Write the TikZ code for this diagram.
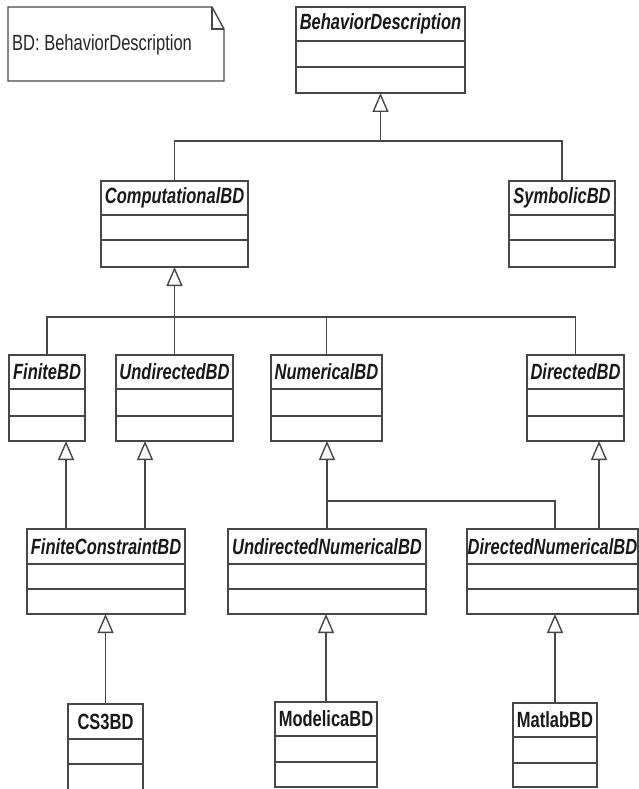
\documentclass[tikz,border=0pt]{standalone}
\usepackage{fontspec}
\setmainfont{Liberation Sans}
\newfontfamily\umlfont[FakeStretch=0.75]{Liberation Sans}
\usetikzlibrary{arrows.meta,fit}

\tikzset{
  umlline/.style={draw=black!72, line width=1.4pt},
  clsbox/.style={umlline, inner sep=0pt, outer sep=0pt, fill=white},
  abstitle/.style={font=\umlfont\fontsize{22}{24}\selectfont\bfseries\itshape, inner sep=0pt, text=black!90},
  contitle/.style={font=\umlfont\fontsize{22}{24}\selectfont\bfseries, inner sep=0pt, text=black!90},
  notetext/.style={font=\umlfont\fontsize{22}{24}\selectfont, inner sep=0pt, anchor=west, text=black!85},
  gen/.style={umlline, -{Triangle[open, length=19pt, width=16pt]}},
}

% name, x1, y1, x2, y2, divider1, divider2, text, title style
\newcommand{\umlcls}[9]{%
  \path (#2,#3) coordinate (#1-nw) (#4,#5) coordinate (#1-se);
  \node[clsbox, fit=(#1-nw)(#1-se)] (#1) {};
  \node[#9] (#1-title) at ({(#2+#4)/2},{(#3+#6)/2}) {#8};
  \draw[umlline] (#2,#6) -- (#4,#6);
  \draw[umlline] (#2,#7) -- (#4,#7);
}

\begin{document}
\begin{tikzpicture}[x=1pt,y=-1pt]
\useasboundingbox (0,0) rectangle (639,789);
\fill[white] (0,0) rectangle (639,789);

% note
\draw[umlline, line join=miter] (8,7) -- (212,7) -- (224,29) -- (224,81) -- (8,81) -- cycle;
\draw[umlline] (212,7) -- (212,29) -- (224,29);
\node[notetext] (note) at (12,45) {BD: BehaviorDescription};

% classes
\umlcls{bd}{296}{7}{465}{93}{41}{67}{BehaviorDescription}{abstitle}
\umlcls{comp}{101}{181}{248}{267}{215}{240}{ComputationalBD}{abstitle}
\umlcls{sym}{509}{181}{615}{267}{215}{240}{SymbolicBD}{abstitle}
\umlcls{fin}{9}{355}{85}{441}{389}{416}{FiniteBD}{abstitle}
\umlcls{und}{116}{355}{233}{441}{389}{416}{UndirectedBD}{abstitle}
\umlcls{num}{271}{355}{382}{441}{389}{416}{NumericalBD}{abstitle}
\umlcls{dir}{527}{355}{624}{441}{389}{416}{DirectedBD}{abstitle}
\umlcls{fcb}{27}{529}{185}{614}{564}{589}{FiniteConstraintBD}{abstitle}
\umlcls{unb}{228}{529}{426}{614}{564}{589}{UndirectedNumericalBD}{abstitle}
\umlcls{dnb}{467}{529}{638}{614}{564}{589}{DirectedNumericalBD}{abstitle}
\umlcls{cs3}{68}{704}{143}{791}{739}{764}{CS3BD}{contitle}
\umlcls{mod}{275}{702}{377}{787}{736}{762}{ModelicaBD}{contitle}
\umlcls{mat}{513}{703}{597}{787}{737}{763}{MatlabBD}{contitle}

% junctions
\coordinate (j1) at (380.5,141);
\coordinate (j2) at (174.5,317);
\coordinate (j3) at (327,501);

% generalizations: level 1
\draw[umlline] (comp.north) |- (j1) -| (sym.north);
\draw[gen] (j1) -- (bd.south);

% level 2
\draw[umlline] (fin.north) |- (j2) -| (dir.north);
\draw[umlline] (und.north) -- (j2);
\draw[umlline] (num.north) -- (num.north |- j2);
\draw[gen] (j2) -- (comp.south);

% level 3
\draw[gen] (fcb.north -| 66,0) -- (fin.south -| 66,0);
\draw[gen] (fcb.north -| 145,0) -- (und.south -| 145,0);
\draw[gen] (unb.north -| j3) -- (num.south -| j3);
\draw[umlline] (j3) -| (dnb.north -| 555,0);
\draw[gen] (dnb.north -| 599,0) -- (dir.south -| 599,0);

% level 4
\draw[gen] (cs3.north) -- (fcb.south -| cs3.north);
\draw[gen] (mod.north) -- (unb.south -| mod.north);
\draw[gen] (mat.north) -- (dnb.south -| mat.north);
\end{tikzpicture}
\end{document}
